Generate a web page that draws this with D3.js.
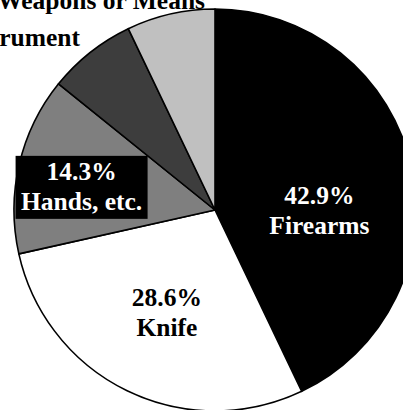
<!DOCTYPE html>
<html><head><meta charset="utf-8">
<script src="https://cdn.jsdelivr.net/npm/d3@7"></script>
<style>html,body{margin:0;padding:0;background:#fff;overflow:hidden}
text{font-family:"Liberation Serif","Times New Roman",Times,"DejaVu Serif",serif;font-weight:bold}</style>
</head><body>
<svg id="c" width="403" height="410"></svg>
<script>
const categories = ["Firearms", "Knife", "Hands, etc.", "Other A", "Other B"];
const values = [42.9, 28.6, 14.3, 7.1, 7.1];
const fills = ["#000000", "#ffffff", "#7f7f7f", "#3d3d3d", "#c0c0c0"];
const labelText = ["42.9%", "28.6%", "14.3%"];
const titleLines = ["Weapons or Means", "Instrument"];

const svg = d3.select("#c");
const cx = 215, cy = 210, R = 201;
const g = svg.append("g").attr("transform", `translate(${cx},${cy})`);

const pie = d3.pie().sort(null).value(d => d)(values);
const arc = d3.arc().innerRadius(0).outerRadius(R);

g.selectAll("path").data(pie).join("path")
  .attr("d", arc)
  .attr("fill", (d, i) => fills[i])
  .attr("stroke", "#000")
  .attr("stroke-width", 1.6)
  .attr("stroke-linejoin", "round");

const place = [{r: 107, dy: 26}, {r: 110, dy: 5}, {r: 137, dy: 9}];
const txtColor = ["#fff", "#000", "#fff"];

place.forEach((p, i) => {
  const d = pie[i];
  const a = (d.startAngle + d.endAngle) / 2;
  const x = p.r * Math.sin(a), y = -p.r * Math.cos(a) + p.dy;
  const lg = g.append("g").attr("transform", `translate(${x},${y})`);
  if (i === 2) {
    lg.append("rect").attr("x", -66).attr("y", -32).attr("width", 132).attr("height", 63).attr("fill", "#000");
  }
  const t = lg.append("text").attr("text-anchor", "middle")
    .attr("font-size", 25.5).attr("fill", txtColor[i]);
  t.append("tspan").attr("x", 0).attr("y", -8).text(labelText[i]);
  t.append("tspan").attr("x", 0).attr("y", 22).text(categories[i]);
});

svg.append("text").attr("x", 205).attr("y", 9).attr("text-anchor", "end")
  .attr("font-size", 25.5).text(titleLines[0]);
svg.append("text").attr("x", 80).attr("y", 46).attr("text-anchor", "end")
  .attr("font-size", 25.5).text(titleLines[1]);
</script>
</body></html>
